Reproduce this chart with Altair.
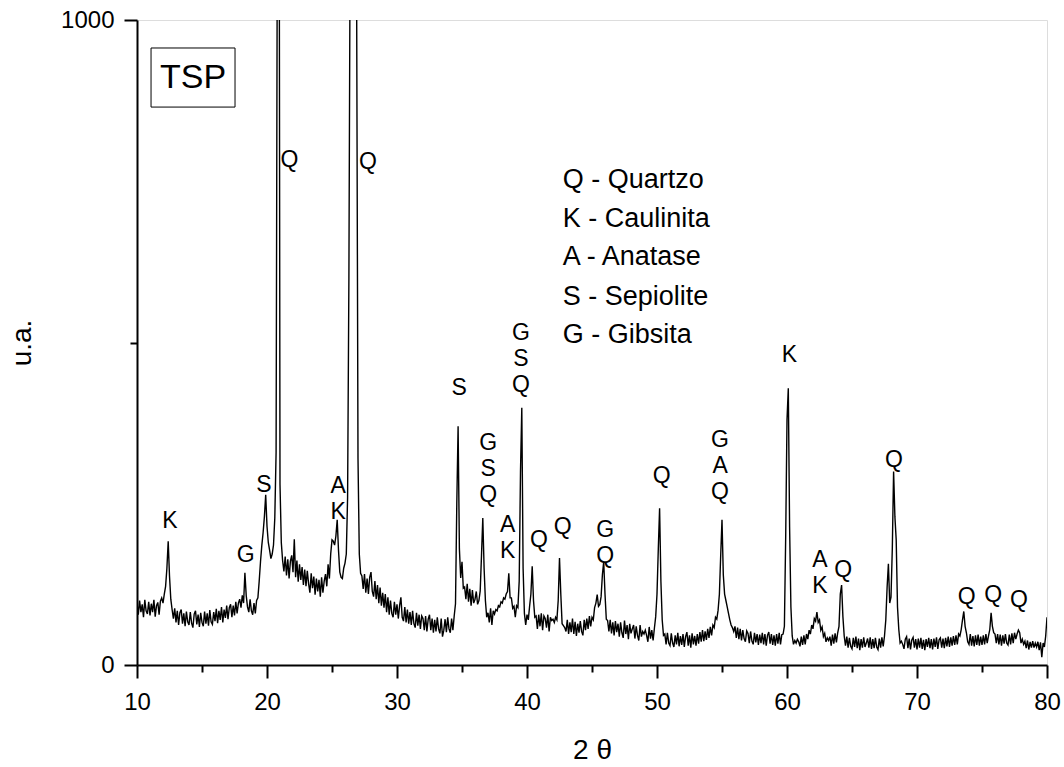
import altair as alt
import pandas as pd

# ---- diffractogram intensities, 2-theta from 10.0 to 80.0 in 0.1 steps ----
start_angle = 10.0
step = 0.1
intensity = [
    96, 78, 100, 82, 94, 74, 101, 84, 79, 98,        # 10
    77, 95, 82, 101, 75, 92, 97, 78, 99, 104,        # 11
    96, 110, 122, 150, 192, 138, 102, 86, 72, 88,    # 12
    66, 84, 62, 81, 86, 64, 80, 60, 83, 67,          # 13
    62, 82, 65, 58, 79, 84, 63, 78, 59, 81,          # 14
    66, 60, 83, 64, 80, 61, 85, 67, 63, 82,          # 15
    68, 87, 65, 84, 70, 90, 66, 86, 73, 92,          # 16
    71, 89, 94, 74, 92, 77, 98, 80, 96, 102,         # 17
    89, 108, 96, 143, 108, 90, 82, 102, 84, 78,      # 18
    96, 80, 100, 104, 130, 160, 185, 205, 230, 264,  # 19
    215, 190, 178, 165, 172, 186, 228, 330, 1200, 1800,  # 20
    280, 190, 162, 145, 168, 139, 164, 134, 161, 170,    # 21
    144, 195, 136, 162, 129, 156, 132, 152, 124, 148,    # 22
    122, 146, 126, 112, 142, 119, 137, 109, 134, 114,    # 23
    132, 106, 136, 112, 130, 141, 122, 156, 134, 172,    # 24
    194, 192, 186, 200, 225, 178, 144, 136, 134, 150,    # 25
    158, 172, 260, 600, 1150, 3000, 5000, 4000, 2500, 1000,  # 26
    320, 172, 142, 138, 118, 141, 112, 134, 110, 136,    # 27
    144, 114, 106, 130, 102, 124, 96, 120, 92, 112,      # 28
    89, 110, 82, 105, 78, 100, 80, 74, 98, 78,           # 29
    94, 72, 92, 105, 74, 68, 90, 66, 86, 64,             # 30
    82, 62, 84, 64, 58, 81, 61, 78, 56, 76,              # 31
    72, 54, 76, 52, 71, 78, 54, 72, 50, 70,              # 32
    52, 74, 56, 49, 72, 44, 54, 71, 51, 74,              # 33
    56, 50, 72, 54, 76, 95, 250, 370, 180, 135,          # 34
    160, 119, 121, 102, 126, 98, 118, 92, 116, 96,       # 35
    102, 114, 94, 100, 115, 170, 228, 150, 100, 74,      # 36
    81, 66, 88, 62, 84, 79, 86, 84, 92, 90,              # 37
    98, 96, 104, 102, 110, 114, 142, 104, 104, 88,       # 38
    91, 74, 92, 89, 130, 300, 399, 150, 80, 62,          # 39
    78, 70, 91, 110, 153, 100, 74, 76, 56, 78,           # 40
    60, 80, 54, 76, 72, 58, 78, 52, 74, 69,              # 41
    71, 66, 74, 70, 100, 166, 110, 64, 61, 58,           # 42
    52, 70, 48, 66, 51, 72, 48, 67, 45, 64,              # 43
    50, 68, 52, 46, 70, 54, 72, 56, 76, 60,              # 44
    74, 70, 89, 96, 109, 91, 94, 106, 140, 160,          # 45
    110, 71, 69, 52, 70, 49, 66, 46, 68, 51,             # 46
    64, 44, 66, 50, 42, 69, 48, 62, 40, 64,              # 47
    49, 56, 62, 41, 60, 46, 38, 62, 44, 52,              # 48
    48, 54, 46, 36, 59, 41, 54, 38, 57, 75,              # 49
    110, 180, 243, 130, 70, 46, 48, 32, 50, 34,          # 50
    30, 49, 34, 28, 46, 32, 50, 29, 45, 31,              # 51
    48, 28, 44, 51, 30, 46, 27, 49, 32, 45,              # 52
    30, 48, 33, 51, 36, 54, 37, 52, 39, 56,              # 53
    42, 59, 46, 62, 58, 74, 71, 85, 110, 170,            # 54
    225, 140, 110, 100, 90, 80, 70, 62, 58, 52,          # 55
    60, 42, 58, 40, 56, 38, 54, 41, 36, 53,              # 56
    49, 34, 52, 37, 32, 50, 35, 48, 31, 47,              # 57
    34, 50, 32, 48, 30, 46, 51, 33, 48, 31,              # 58
    46, 30, 48, 33, 50, 32, 47, 48, 60, 200,             # 59
    380, 429, 214, 90, 45, 32, 38, 34, 40, 36,           # 60
    29, 44, 31, 46, 32, 48, 40, 54, 48, 62,              # 61
    56, 72, 68, 82, 66, 70, 54, 59, 44, 49,              # 62
    36, 42, 38, 44, 30, 47, 33, 49, 35, 50,              # 63
    60, 110, 124, 75, 45, 30, 44, 27, 42, 29,            # 64
    25, 42, 28, 44, 26, 41, 23, 40, 27, 43,              # 65
    28, 34, 41, 27, 43, 25, 40, 26, 42, 28,              # 66
    24, 41, 27, 43, 29, 45, 70, 120, 157, 96,            # 67
    105, 180, 300, 230, 194, 90, 55, 34, 37, 32,         # 68
    25, 40, 44, 26, 41, 24, 39, 43, 27, 40,              # 69
    24, 41, 27, 42, 25, 39, 23, 40, 28, 42,              # 70
    26, 40, 24, 41, 28, 43, 25, 39, 42, 27,              # 71
    41, 26, 42, 29, 44, 28, 43, 30, 45, 31,              # 72
    46, 32, 48, 45, 55, 70, 83, 60, 50, 36,              # 73
    32, 48, 30, 45, 29, 46, 31, 47, 30, 44,              # 74
    31, 46, 32, 48, 34, 45, 55, 81, 60, 50,              # 75
    48, 34, 48, 32, 47, 30, 46, 33, 48, 34,              # 76
    31, 47, 32, 49, 34, 50, 40, 48, 54, 50,              # 77
    34, 40, 32, 37, 26, 38, 24, 36, 27, 37,              # 78
    27, 34, 28, 36, 23, 35, 12, 34, 28, 45,              # 79
    74,                                                  # 80
]
two_theta = [round(start_angle + i * step, 1) for i in range(len(intensity))]

# ---- peak labels (y = position of the first line of each label) ----
peak_text = ["K", "G", "S", "A\nK", "Q", "Q", "S", "G\nS\nQ", "A\nK", "G\nS\nQ",
             "Q", "Q", "G\nQ", "Q", "G\nA\nQ", "K", "A\nK", "Q", "Q", "Q", "Q", "Q"]
peak_x = [12.54, 18.36, 19.77, 25.48, 21.72, 27.77, 34.79, 37.02, 38.52, 39.54,
          40.92, 42.75, 46.02, 50.36, 54.85, 60.18, 62.54, 64.33, 68.23, 73.82, 75.87, 77.85]
peak_y = [223, 170, 279, 277, 783, 780, 429, 344, 217, 515,
          194, 214, 209, 293, 349, 481, 163, 147, 318, 105, 108, 101]

# ---- phase key ----
key_text = ["Q - Quartzo", "K - Caulinita", "A - Anatase", "S - Sepiolite", "G - Gibsita"]
key_x = [42.75] * 5
key_y = [752, 691, 632, 571, 512]

# ---- sample tag ----
tag_text = ["TSP"]
tag_x, tag_x2 = [11.08], [17.54]
tag_y, tag_y2 = [865], [956.6]

FONT = "Liberation Sans"

df = pd.DataFrame({"x": two_theta, "y": intensity})
peaks = pd.DataFrame({"t": peak_text, "x": peak_x, "y": peak_y})
key = pd.DataFrame({"t": key_text, "x": key_x, "y": key_y})
tag = pd.DataFrame({"t": tag_text, "x": [(a + b) / 2 for a, b in zip(tag_x, tag_x2)],
                    "x1": tag_x, "x2": tag_x2, "y1": tag_y, "y2": tag_y2,
                    "ym": [(a + b) / 2 for a, b in zip(tag_y, tag_y2)]})

xscale = alt.Scale(domain=[10, 80], nice=False, zero=False)
yscale = alt.Scale(domain=[0, 1000], nice=False)

xaxis = alt.Axis(
    values=[10, 15, 20, 25, 30, 35, 40, 45, 50, 55, 60, 65, 70, 75, 80],
    format="d",
    labelExpr="datum.value % 10 === 0 ? datum.label : ''",
    tickSize={"condition": {"test": "datum.value % 10 === 0", "value": 13}, "value": 7},
    tickWidth=2, tickColor="black", domainWidth=2, domainColor="black",
    labelFontSize=24, labelFont=FONT, labelColor="black", labelPadding=12,
    labelFlush=False, labelOverlap=False,
    title="2 θ", titleFontSize=28, titleFont=FONT, titleFontWeight="normal",
    titleColor="black", titlePadding=22, grid=False,
)
yaxis = alt.Axis(
    values=[0, 500, 1000],
    format="d",
    labelExpr="datum.value === 500 ? '' : datum.label",
    tickSize={"condition": {"test": "datum.value === 500", "value": 7}, "value": 13},
    tickWidth=2, tickColor="black", domainWidth=2, domainColor="black",
    labelFontSize=24, labelFont=FONT, labelColor="black", labelPadding=10,
    labelFlush=False, labelOverlap=False,
    title="u.a.", titleFontSize=28, titleFont=FONT, titleFontWeight="normal",
    titleColor="black", titlePadding=24, grid=False,
)

line = alt.Chart(df).mark_line(color="black", strokeWidth=1.4, clip=True).encode(
    x=alt.X("x:Q", scale=xscale, axis=xaxis),
    y=alt.Y("y:Q", scale=yscale, axis=yaxis),
)

labels = alt.Chart(peaks).mark_text(
    font=FONT, fontSize=23, color="black", align="center", baseline="middle",
    lineBreak="\n", lineHeight=26,
).encode(x=alt.X("x:Q", scale=xscale), y=alt.Y("y:Q", scale=yscale), text="t:N")

keytext = alt.Chart(key).mark_text(
    font=FONT, fontSize=27, color="black", align="left", baseline="middle",
).encode(x=alt.X("x:Q", scale=xscale), y=alt.Y("y:Q", scale=yscale), text="t:N")

box = alt.Chart(tag).mark_rect(fill="white", stroke="black", strokeWidth=1).encode(
    x=alt.X("x1:Q", scale=xscale), x2="x2:Q",
    y=alt.Y("y1:Q", scale=yscale), y2="y2:Q",
)
boxtext = alt.Chart(tag).mark_text(
    font=FONT, fontSize=34, color="black", align="center", baseline="middle",
).encode(x=alt.X("x:Q", scale=xscale), y=alt.Y("ym:Q", scale=yscale), text="t:N")

chart = alt.layer(line, labels, keytext, box, boxtext).properties(
    width=910, height=645,
    autosize=alt.AutoSizeParams(type="none"),
    padding={"left": 137, "top": 20, "right": 17, "bottom": 102},
).configure_view(stroke=None).configure(background="white")

chart.save("out.html", embed_options={"renderer": "svg", "actions": False})
